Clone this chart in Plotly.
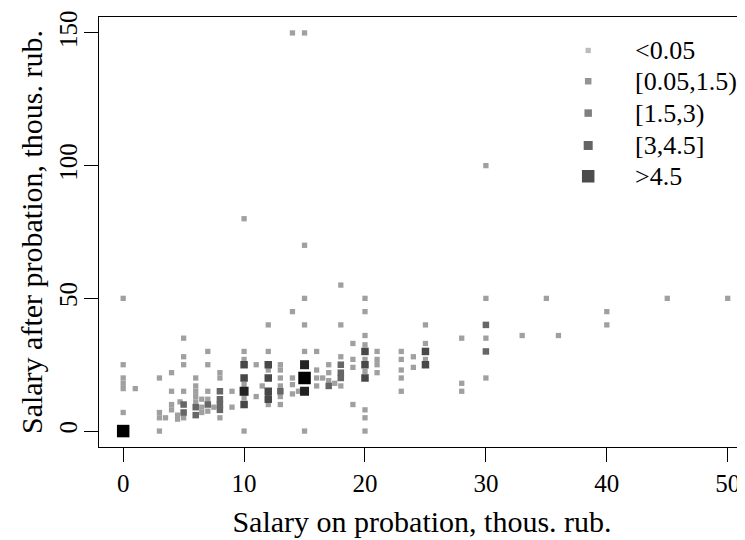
import plotly.graph_objects as go

# ── Data: salary on probation (x) vs salary after probation (y), thous. rub. ──
# grouped by share of observations at the point

light_x = [0, 0, 0, 0, 0, 0, 1, 3, 3, 3, 3, 3.5, 4, 4, 4, 4, 4.5, 4.5, 4.7,
           5, 5, 5, 5, 5, 6, 6, 6, 6, 6, 6.5, 6.5, 6.5, 7, 7, 7, 7, 7, 7.5,
           8, 8, 8, 9, 9, 10, 10, 10, 10, 10, 10, 11, 11, 11.5,
           12, 12, 12, 12, 13, 13, 13, 13, 13, 13, 14, 14, 14, 14, 14, 14.5,
           15, 15, 15, 15, 15, 15, 16, 16, 16, 16, 16.5, 17, 17, 17, 17.5,
           18, 18, 18, 18, 19, 19, 19, 19,
           20, 20, 20, 20, 20, 20, 20, 20, 20, 21, 21, 21, 21,
           23, 23, 23, 23, 23, 24, 24, 25, 25, 25, 28, 28, 28,
           30, 30, 30, 30, 33, 35, 36, 40, 40, 45, 50]
light_y = [50, 25, 20, 18, 16, 7, 16, 20, 7, 5, 0, 5, 22, 15, 10, 8, 6, 4.5, 11,
           35, 28, 25, 15, 5, 20, 17, 15, 13, 11, 12, 9, 7, 30, 25, 15, 12, 7.5, 9,
           22, 20, 5, 15, 9, 80, 30, 27, 17.5, 12.5, 0, 25, 13, 17,
           40, 30, 23, 10, 25, 23, 20, 17, 13, 10, 150, 45, 20, 17.5, 14, 15,
           150, 70, 50, 40, 30, 0, 30, 23, 20, 17, 20, 25, 22, 19, 18,
           55, 40, 28, 17, 33, 27, 24, 10,
           50, 45, 36, 32.5, 27, 22.5, 8, 5, 0, 30, 27, 25, 22,
           30, 27, 23, 20, 15, 28, 24, 40, 33, 27, 35, 18, 15,
           100, 50, 35, 20, 36, 50, 36, 45, 40, 50, 50]

low_x = [5, 5, 6, 6, 7, 8, 8, 8, 8, 12, 13, 17, 18, 18, 18, 30, 30]
low_y = [10, 7, 9, 6, 10, 15, 12, 10, 8, 13, 15, 17, 25, 22, 20, 40, 30]

mid_x = [10, 10, 10, 12, 12, 12, 12, 20, 20, 20, 25, 25]
mid_y = [25, 20, 10, 25, 20, 15, 12, 30, 25, 20, 30, 25]

high_x = [10, 15, 15]
high_y = [15, 25, 15]

top_x = [0, 15]
top_y = [0, 20]

groups = ["<0.05", "[0.05,1.5)", "[1.5,3)", "[3,4.5]", ">4.5"]
group_x = [light_x, low_x, mid_x, high_x, top_x]
group_y = [light_y, low_y, mid_y, high_y, top_y]
colors = ["#a0a0a0", "#666666", "#484848", "#222222", "#000000"]
sizes = [5.3, 6.5, 7.5, 9, 12.5]

FONT = "Liberation Serif"
FS, LEG_FS = 25, 26

fig = go.Figure()

for name, xs, ys, col, sz in zip(groups, group_x, group_y, colors, sizes):
    fig.add_trace(go.Scatter(x=xs, y=ys, mode="markers", name=name,
                             marker=dict(symbol="square", size=sz, color=col, line_width=0),
                             showlegend=False, hoverinfo="skip"))

# legend drawn by hand (top right, like R's legend())
leg_x, leg_tx = 38.46, 42.2
leg_y = [143.4, 131.8, 119.8, 107.6, 96.0]
fig.add_trace(go.Scatter(x=[leg_x] * 5, y=leg_y, mode="markers", showlegend=False,
                         hoverinfo="skip",
                         marker=dict(symbol="square", size=sizes, color=colors, line_width=0)))
for name, yy in zip(groups, leg_y):
    fig.add_annotation(x=leg_tx, y=yy, text=name, showarrow=False, xanchor="left",
                       yanchor="middle", font=dict(family=FONT, size=LEG_FS, color="black"))

# page body adds an 8px margin, so the figure is 8px smaller than the window
fig.update_layout(
    width=737, height=532,
    margin=dict(l=91, r=0, t=9, b=93),
    paper_bgcolor="white", plot_bgcolor="white",
    font=dict(family=FONT, size=FS, color="black"),
    showlegend=False,
)
fig.update_xaxes(range=[-2.0, 51.43], tickvals=[0, 10, 20, 30, 40, 50],
                 showgrid=False, zeroline=False, showline=True, mirror=True,
                 linecolor="black", linewidth=1, ticks="outside", ticklen=14,
                 tickcolor="black", tickwidth=1, ticklabelstandoff=0, automargin=False,
                 title=dict(text="Salary on probation, thous. rub.", standoff=14))
fig.update_yaxes(range=[-6, 156], tickvals=[0, 50, 100, 150], tickangle=-90,
                 showgrid=False, zeroline=False, showline=True, mirror=False,
                 linecolor="black", linewidth=1, ticks="outside", ticklen=14,
                 tickcolor="black", tickwidth=1, ticklabelstandoff=-3, automargin=False,
                 title=dict(text="Salary after probation, thous. rub.", standoff=3))

fig.write_html("out.html")
